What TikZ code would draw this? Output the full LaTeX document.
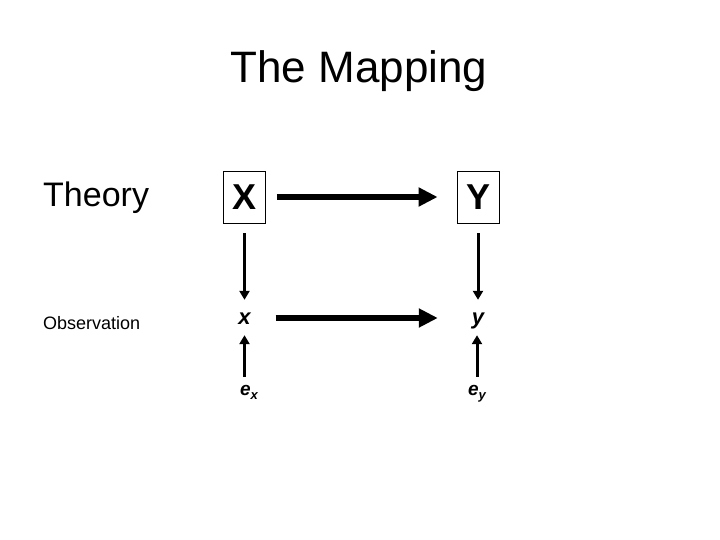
\documentclass[tikz,border=0pt]{standalone}
\usepackage{fontspec}
\setmainfont{Liberation Sans}
\usetikzlibrary{arrows.meta,positioning}

\newcommand{\errsub}[1]{\raisebox{-4pt}{\fontsize{13}{15}\selectfont #1}}

\begin{document}
\begin{tikzpicture}[x=1pt,y=-1pt,
    varbox/.style={draw,line width=0.8pt,minimum width=42pt,minimum height=52pt,inner sep=0pt,
      font=\fontsize{36}{40}\selectfont\bfseries},
    obsvar/.style={minimum width=42pt,inner sep=0pt,text height=16pt,text depth=4pt,
      font=\fontsize{22}{26}\selectfont\bfseries\itshape},
    errvar/.style={inner sep=0pt,text height=14pt,text depth=4pt,
      font=\fontsize{19}{22}\selectfont\bfseries\itshape},
    bigarrow/.style={line width=6pt,-{Triangle[length=19pt,width=18pt]},
      shorten <=10pt,shorten >=19pt},
    smallarrow/.style={line width=3pt,-{Triangle[length=9pt,width=10pt]}}]
  \useasboundingbox (0,0) rectangle (720,540);
  % title and row labels
  \node[anchor=base,font=\fontsize{44}{48}\selectfont] (title) at (359,83) {The Mapping};
  \node[anchor=base west,inner sep=0pt,font=\fontsize{34}{38}\selectfont] (theory) at (43,207) {Theory};
  \node[anchor=base west,inner sep=0pt,font=\fontsize{18}{22}\selectfont] (obs) at (43,329) {Observation};
  % variables
  \node[varbox] (X) at (244.5,197) {X};
  \node[varbox] (Y) at (478,197) {Y};
  \node[obsvar] (x) at (244.5,318) {x};
  \node[obsvar] (y) at (478,318) {y};
  \node[errvar] (ex) at (249,390) {e\errsub{x}};
  \node[errvar] (ey) at (477,390) {e\errsub{y}};
  % arrows
  \draw[bigarrow,shorten <=11pt] (X) -- (Y);
  \draw[bigarrow] (x) -- (y);
  \draw[smallarrow,shorten <=10pt,shorten >=8pt] (X.south) -- (x.north);
  \draw[smallarrow,shorten <=10pt,shorten >=8pt] (Y.south) -- (y.north);
  \draw[smallarrow,shorten <=4pt,shorten >=7pt] (x |- ex.north) -- (x.south);
  \draw[smallarrow,shorten <=4pt,shorten >=7pt] (ey.north) -- (ey.north |- y.south);
\end{tikzpicture}
\end{document}
